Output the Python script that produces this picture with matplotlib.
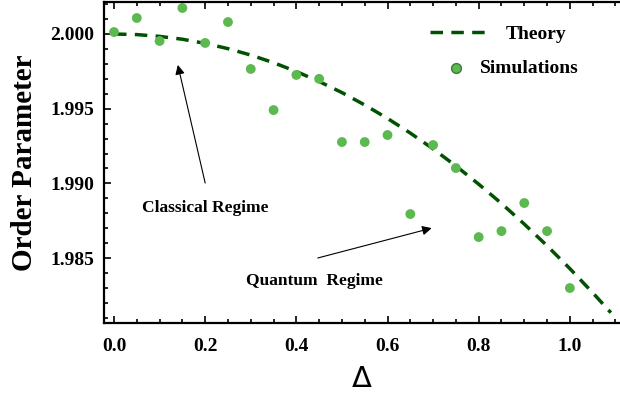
import matplotlib
matplotlib.use('Agg')
import matplotlib.pyplot as plt
from matplotlib.ticker import MultipleLocator, FormatStrFormatter

# simulation points
sim_delta = [0.0, 0.05, 0.1, 0.15, 0.2, 0.25, 0.3, 0.35, 0.4, 0.45, 0.5,
             0.55, 0.6, 0.65, 0.7, 0.75, 0.8, 0.85, 0.9, 0.95, 1.0]
sim_order = [2.00013, 2.00107, 1.99953, 2.00174, 1.99940, 2.00080, 1.99766,
             1.99491, 1.99726, 1.99700, 1.99277, 1.99277, 1.99324, 1.98795,
             1.99257, 1.99103, 1.98641, 1.98681, 1.98869, 1.98681, 1.98300]

# theory curve
th_delta = [0.0, 0.05, 0.1, 0.15, 0.2, 0.25, 0.3, 0.35, 0.4, 0.45, 0.5, 0.55,
            0.6, 0.65, 0.7, 0.75, 0.8, 0.85, 0.9, 0.95, 1.0, 1.05, 1.09]
th_order = [2.00000, 1.99996, 1.99984, 1.99965, 1.99937, 1.99902, 1.99859,
            1.99808, 1.99749, 1.99682, 1.99608, 1.99525, 1.99435, 1.99337,
            1.99231, 1.99117, 1.98995, 1.98866, 1.98728, 1.98583, 1.98430,
            1.98269, 1.98135]

SIM_COLOR = '#5cb94f'
TH_COLOR = '#005200'
SERIF = 'Liberation Serif'
LEG_FONT = {'family': SERIF, 'weight': 'bold', 'size': 14}

fig = plt.figure(figsize=(6.2, 4.03), dpi=100)
ax = fig.add_axes([0.1677, 0.1985, 0.8323, 0.7965])

th_line, = ax.plot(th_delta, th_order, color=TH_COLOR, lw=2.5,
                   dashes=(3.6, 2.4), zorder=2)
sim_pts = ax.scatter(sim_delta, sim_order, s=50, color=SIM_COLOR,
                     edgecolors='none', zorder=3)

ax.set_xlim(-0.022, 1.11)
ax.set_ylim(1.98066, 2.00214)
ax.xaxis.set_major_locator(MultipleLocator(0.2))
ax.xaxis.set_minor_locator(MultipleLocator(0.05))
ax.yaxis.set_major_locator(MultipleLocator(0.005))
ax.yaxis.set_minor_locator(MultipleLocator(0.001))
ax.xaxis.set_major_formatter(FormatStrFormatter('%.1f'))
ax.yaxis.set_major_formatter(FormatStrFormatter('%.3f'))

for s in ['left', 'bottom', 'top']:
    ax.spines[s].set_linewidth(1.6)
ax.spines['right'].set_visible(False)
ax.tick_params(which='both', direction='in', top=True, right=False, width=1.2)
ax.tick_params(which='major', length=5)
ax.tick_params(axis='x', which='major', pad=11)
ax.tick_params(axis='y', which='major', pad=7)
ax.tick_params(which='minor', length=3)
for lab in ax.get_xticklabels() + ax.get_yticklabels():
    lab.set_fontfamily(SERIF)
    lab.set_fontweight('bold')
    lab.set_fontsize(14)

ax.set_ylabel('Order Parameter', family=SERIF, fontweight='bold', fontsize=21,
              labelpad=9)
ax.set_xlabel('Δ', family='DejaVu Sans', fontsize=21, labelpad=7)

# two single-entry legends so each label sits like the original
leg1 = ax.legend([th_line], ['Theory'], loc='center left',
                 bbox_to_anchor=(0.632, 0.90), frameon=False, prop=LEG_FONT,
                 handlelength=2.8, handletextpad=1.08, borderpad=0,
                 borderaxespad=0)
ax.add_artist(leg1)
leg2 = ax.legend([sim_pts], ['Simulations'], loc='center left',
                 bbox_to_anchor=(0.632, 0.794), frameon=False, prop=LEG_FONT,
                 handlelength=2.68, handletextpad=-0.1, borderpad=0,
                 borderaxespad=0, scatterpoints=1)
leg2.legend_handles[0].set_edgecolor('#3d7a35')
leg2.legend_handles[0].set_linewidth(1.0)

arrow = dict(arrowstyle='-|>', color='black', lw=0.8, mutation_scale=14,
             shrinkA=0, shrinkB=0)
ax.annotate('', xy=(0.140, 1.99793), xytext=(0.200, 1.99003), arrowprops=arrow)
ax.text(0.20, 1.98835, 'Classical Regime', ha='center', va='center',
        family=SERIF, fontweight='bold', fontsize=12.5)
ax.annotate('', xy=(0.697, 1.98701), xytext=(0.447, 1.98501), arrowprops=arrow)
ax.text(0.44, 1.98347, 'Quantum  Regime', ha='center', va='center',
        family=SERIF, fontweight='bold', fontsize=12.5)

fig.savefig('out.png', dpi=100)
